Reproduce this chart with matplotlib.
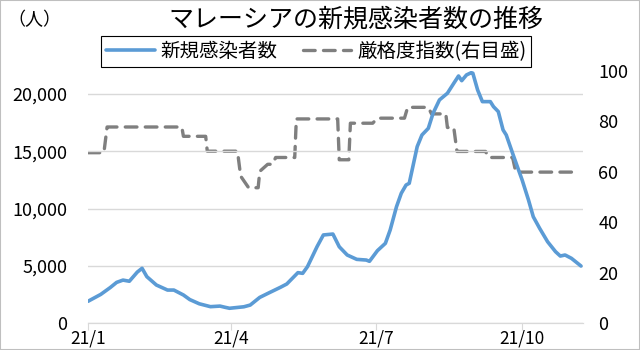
import pandas as pd
import matplotlib.pyplot as plt
from matplotlib.patches import Rectangle

plt.rcParams['font.family'] = ['Noto Sans CJK JP', 'DejaVu Sans']

# new cases (7-day average)
case_dates = ['2021-01-01', '2021-01-09', '2021-01-15', '2021-01-19', '2021-01-23', '2021-01-27',
              '2021-02-01', '2021-02-04', '2021-02-07', '2021-02-13', '2021-02-20', '2021-02-24',
              '2021-03-02', '2021-03-06', '2021-03-12', '2021-03-19', '2021-03-25', '2021-03-28',
              '2021-03-31', '2021-04-09', '2021-04-13', '2021-04-19', '2021-04-25', '2021-05-02',
              '2021-05-06', '2021-05-13', '2021-05-16', '2021-05-19', '2021-05-25', '2021-05-29',
              '2021-06-04', '2021-06-08', '2021-06-13', '2021-06-19', '2021-06-25', '2021-06-27',
              '2021-07-02', '2021-07-07', '2021-07-10', '2021-07-14', '2021-07-17', '2021-07-20',
              '2021-07-22', '2021-07-27', '2021-07-30', '2021-08-03', '2021-08-06', '2021-08-10',
              '2021-08-15', '2021-08-19', '2021-08-22', '2021-08-24', '2021-08-27', '2021-08-30',
              '2021-08-31', '2021-09-03', '2021-09-06', '2021-09-11', '2021-09-13', '2021-09-16',
              '2021-09-19', '2021-09-21', '2021-09-25', '2021-09-28', '2021-10-01', '2021-10-05',
              '2021-10-08', '2021-10-12', '2021-10-17', '2021-10-22', '2021-10-25', '2021-10-28',
              '2021-11-01', '2021-11-07']
cases = [1900, 2500, 3100, 3550, 3750, 3650,
         4450, 4780, 4050, 3320, 2880, 2880,
         2450, 2050, 1680, 1430, 1480, 1380,
         1290, 1420, 1570, 2240, 2650, 3120,
         3410, 4400, 4340, 4920, 6660, 7690,
         7770, 6660, 5940, 5560, 5500, 5390,
         6320, 6960, 8120, 10160, 11330, 12050,
         12200, 15400, 16420, 17000, 18320, 19480,
         20060, 20930, 21570, 21160, 21660, 21860,
         21810, 20350, 19330, 19330, 18890, 18460,
         16860, 16420, 14820, 13650, 12490, 10740,
         9280, 8270, 7100, 6230, 5850, 5940,
         5650, 4980]

# stringency index (right axis)
idx_dates = ['2021-01-01', '2021-01-11', '2021-01-13', '2021-03-01', '2021-03-02', '2021-03-16',
             '2021-03-17', '2021-04-05', '2021-04-07', '2021-04-12', '2021-04-18', '2021-04-19',
             '2021-04-24', '2021-04-27', '2021-04-29', '2021-05-11', '2021-05-12', '2021-06-07',
             '2021-06-08', '2021-06-14', '2021-06-15', '2021-06-29', '2021-07-02', '2021-07-19',
             '2021-07-21', '2021-08-03', '2021-08-05', '2021-08-14', '2021-08-15', '2021-08-19',
             '2021-08-21', '2021-09-08', '2021-09-10', '2021-09-25', '2021-09-27', '2021-11-01']
stringency = [67.6, 67.6, 77.8, 77.8, 74.1, 74.1,
              68.2, 68.2, 58.3, 53.7, 53.7, 60.2,
              63.0, 63.0, 65.7, 65.7, 81.0, 81.0,
              64.8, 64.8, 79.3, 79.3, 81.3, 81.3,
              85.6, 85.6, 83.0, 83.0, 77.6, 77.6,
              68.1, 68.1, 65.7, 65.7, 59.9, 59.9]

tick_dates = ['2021-01-01', '2021-04-01', '2021-07-01', '2021-10-01']
tick_labels = ['21/1', '21/4', '21/7', '21/10']

fig = plt.figure(figsize=(6.4, 3.5), dpi=100)
ax = fig.add_axes([0.1375, 0.077, 0.7735, 0.72])
ax2 = ax.twinx()

l1, = ax.plot(pd.to_datetime(case_dates), cases, color='#5b9bd5', lw=2.6,
              solid_capstyle='round', solid_joinstyle='round', zorder=3)
l2, = ax2.plot(pd.to_datetime(idx_dates), stringency, color='#7f7f7f', lw=2.4,
               linestyle=(0, (3.5, 2.5)), dash_capstyle='round')
ax.set_zorder(ax2.get_zorder() + 1)
ax.patch.set_visible(False)

ax.set_xlim(pd.Timestamp('2021-01-01'), pd.Timestamp('2021-11-08 07:00'))
ax.set_ylim(0, 22000)
ax2.set_ylim(0, 100)

ax.set_yticks([0, 5000, 10000, 15000, 20000])
ax.set_yticklabels(['0', '5,000', '10,000', '15,000', '20,000'])
ax2.set_yticks([0, 20, 40, 60, 80, 100])
ax.set_xticks(pd.to_datetime(tick_dates))
ax.set_xticklabels(tick_labels)

ax.grid(axis='y', color='#d9d9d9', lw=1)
ax.set_axisbelow(True)
for a in (ax, ax2):
    for s in ('top', 'left', 'right'):
        a.spines[s].set_visible(False)
    a.spines['bottom'].set_color('#d9d9d9')
ax.tick_params(axis='y', length=0, pad=15, labelsize=13)
ax2.tick_params(axis='y', length=0, pad=11, labelsize=13)
ax.tick_params(axis='x', length=5, color='#d9d9d9', pad=0, labelsize=12.5)

fig.text(0.012, 0.943, '（人）', fontsize=13, va='center', ha='left')
fig.text(0.556, 0.943, 'マレーシアの新規感染者数の推移', fontsize=18, va='center', ha='center')

leg = fig.legend([l1, l2], ['新規感染者数', '厳格度指数(右目盛)'], loc='center',
                 bbox_to_anchor=(0.494, 0.853), ncol=2, fontsize=14, frameon=True,
                 fancybox=False, framealpha=1, edgecolor='black', handlelength=2.5,
                 handletextpad=0.3, columnspacing=1.3, borderpad=0.25)
leg.get_frame().set_linewidth(0.8)

fig.patches.append(Rectangle((0, 0), 1, 1, transform=fig.transFigure, fill=False,
                             edgecolor='#bfbfbf', lw=1.5))

fig.savefig('out.png', dpi=100)
